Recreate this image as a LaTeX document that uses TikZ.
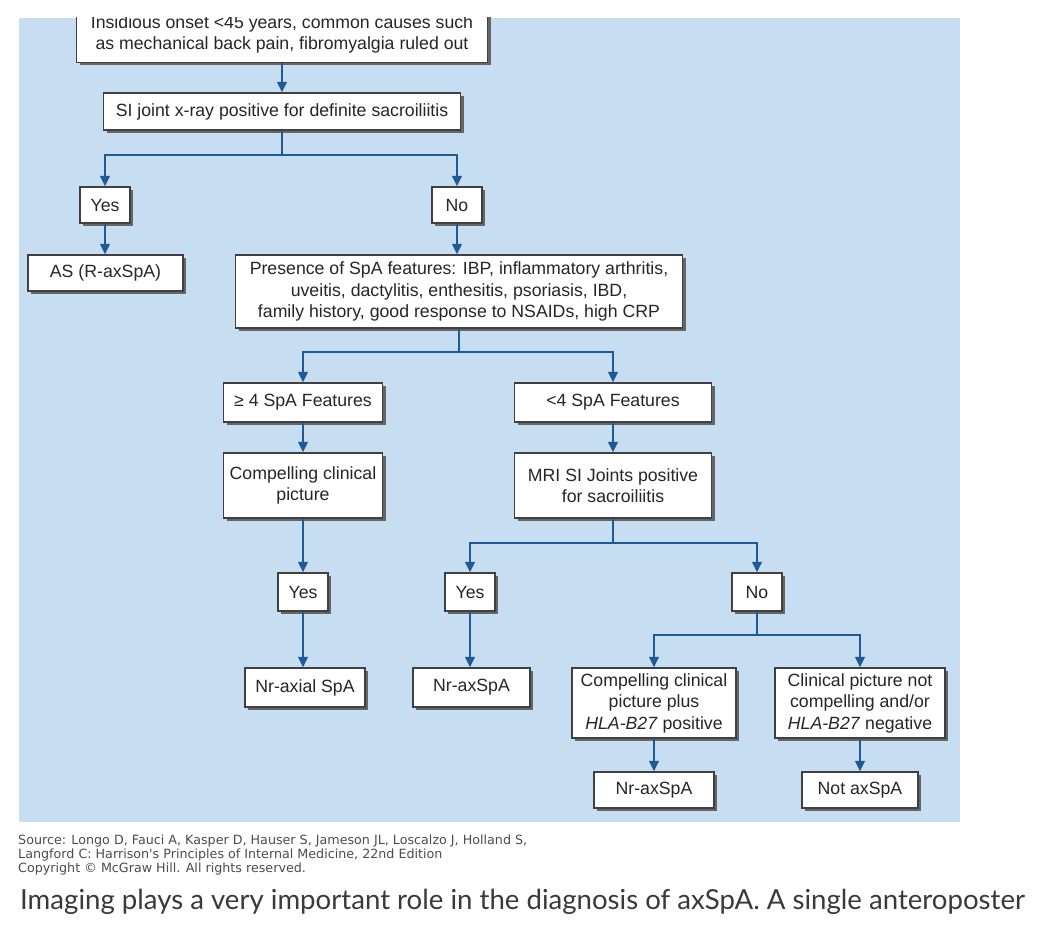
\documentclass[tikz,border=0pt]{standalone}
\usepackage{fontspec}
\setmainfont{Liberation Sans}
\newfontfamily\capfont{Lato}
\newfontfamily\srcfont{DejaVu Sans}
\usetikzlibrary{arrows.meta,shadows}
\definecolor{bgblue}{HTML}{C7DDF2}
\definecolor{arrblue}{HTML}{1E5A96}
\definecolor{txtgray}{HTML}{262626}
\definecolor{capgray}{HTML}{3A3A3A}
\begin{document}
\begin{tikzpicture}[x=1pt,y=-1pt,
  box/.style={draw=black!75, line width=1.2pt, fill=white, text=txtgray,
    font=\fontsize{17.7}{21.5}\selectfont, align=center, inner sep=0pt,
    drop shadow={shadow xshift=3pt, shadow yshift=-3pt, fill=black!60, opacity=1}},
  conn/.style={draw=arrblue, line width=2pt},
  arr/.style={conn, -{Triangle[width=9.5pt,length=10.5pt]}},
]
\useasboundingbox (0,0) rectangle (1045,936);
\fill[white] (0,0) rectangle (1045,936);
\fill[bgblue] (19,18) rectangle (960,822);

\begin{scope}
\clip (0,18) rectangle (1045,936);
\node[box, minimum width=411pt, minimum height=56pt] (top) at (282,34.5)
  {Insidious onset <45 years, common causes such\\as mechanical back pain, fibromyalgia ruled out};
\end{scope}

\node[box, minimum width=357pt, minimum height=37pt] (si) at (282,111.5) {SI joint x-ray positive for definite sacroiliitis};
\node[box, minimum width=50pt, minimum height=36pt] (yes1) at (105,205) {Yes};
\node[box, minimum width=50pt, minimum height=36pt] (no1) at (457,205) {No};
\node[box, minimum width=155pt, minimum height=36pt] (as) at (105.5,273) {AS (R-axSpA)};
\node[box, minimum width=447pt, minimum height=73pt] (pres) at (459,291.5)
  {Presence of SpA features: IBP, inflammatory arthritis,\\uveitis, dactylitis, enthesitis, psoriasis, IBD,\\family history, good response to NSAIDs, high CRP};
\node[box, minimum width=159pt, minimum height=39pt] (ge4) at (303,402.5) {≥ 4 SpA Features};
\node[box, minimum width=197pt, minimum height=39pt] (lt4) at (613,402.5) {<4 SpA Features};
\node[box, minimum width=159pt, minimum height=65pt] (comp) at (303,485.5) {Compelling clinical\\picture};
\node[box, minimum width=197pt, minimum height=65pt] (mri) at (613,485.5) {MRI SI Joints positive\\for sacroiliitis};
\node[box, minimum width=50pt, minimum height=38pt] (yes2) at (303,592) {Yes};
\node[box, minimum width=50pt, minimum height=38pt] (yes3) at (470,592) {Yes};
\node[box, minimum width=50pt, minimum height=38pt] (no2) at (757,592) {No};
\node[box, minimum width=120pt, minimum height=39pt] (nr1) at (305,687.5) {Nr-axial SpA};
\node[box, minimum width=117pt, minimum height=39pt] (nr2) at (471.5,687.5) {Nr-axSpA};
\node[box, minimum width=164pt, minimum height=70pt] (cplus) at (654,703)
  {Compelling clinical\\picture plus\\\textit{HLA-B27} positive};
\node[box, minimum width=170pt, minimum height=70pt] (cnot) at (860,703)
  {Clinical picture not\\compelling and/or\\\textit{HLA-B27} negative};
\node[box, minimum width=120pt, minimum height=36pt] (nr3) at (654,790) {Nr-axSpA};
\node[box, minimum width=116pt, minimum height=36pt] (notax) at (860,790) {Not axSpA};

\coordinate (b1) at (282,155);
\coordinate (b2) at (459,352);
\coordinate (b3) at (613,543);
\coordinate (b4) at (757,635);

\draw[arr] (top.south) -- (si.north);
\draw[conn] (si.south) -- (b1);
\draw[arr] (b1) -| (yes1.north);
\draw[arr] (b1) -| (no1.north);
\draw[arr] (yes1.south) -- (yes1.south |- as.north);
\draw[arr] (no1.south) -- (no1.south |- pres.north);
\draw[conn] (pres.south) -- (b2);
\draw[arr] (b2) -| (ge4.north);
\draw[arr] (b2) -| (lt4.north);
\draw[arr] (ge4.south) -- (comp.north);
\draw[arr] (lt4.south) -- (mri.north);
\draw[arr] (comp.south) -- (yes2.north);
\draw[conn] (mri.south) -- (b3);
\draw[arr] (b3) -| (yes3.north);
\draw[arr] (b3) -| (no2.north);
\draw[arr] (yes2.south) -- (yes2.south |- nr1.north);
\draw[arr] (yes3.south) -- (yes3.south |- nr2.north);
\draw[conn] (no2.south) -- (b4);
\draw[arr] (b4) -| (cplus.north);
\draw[arr] (b4) -| (cnot.north);
\draw[arr] (cplus.south) -- (nr3.north);
\draw[arr] (cnot.south) -- (notax.north);

\node[anchor=west, inner sep=0pt, align=left, text=black!70, font=\srcfont\fontsize{12.7}{14}\selectfont] (src) at (18,855)
  {Source: Longo D, Fauci A, Kasper D, Hauser S, Jameson JL, Loscalzo J, Holland S,\\Langford C: Harrison's Principles of Internal Medicine, 22nd Edition\\Copyright © McGraw Hill. All rights reserved.};
\node[anchor=base west, inner sep=0pt, text=capgray, font=\capfont\fontsize{27.6}{30}\selectfont] (cap) at (20,909)
  {Imaging plays a very important role in the diagnosis of axSpA. A single anteroposter};
\end{tikzpicture}
\end{document}
